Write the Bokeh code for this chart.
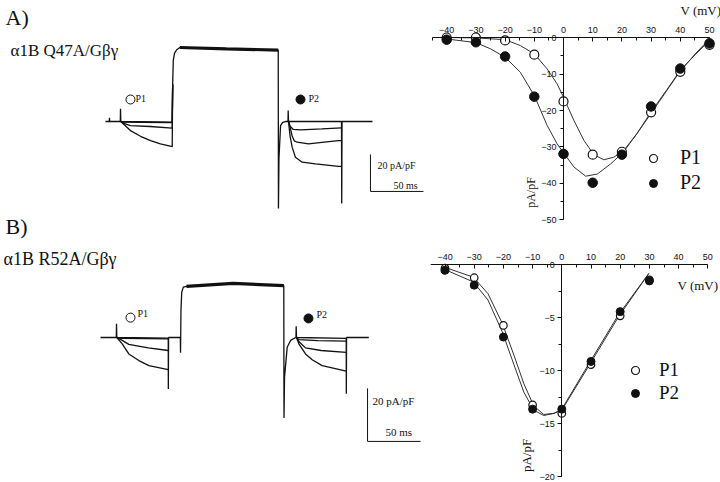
from bokeh.plotting import figure
from bokeh.models import Range1d, LinearAxis, SingleIntervalTicker, Label, Legend, LegendItem
from bokeh.layouts import row, column
from bokeh.embed import file_html
from bokeh.resources import INLINE
from math import pi

# ---------------- data: current traces (time in ms, current in pA/pF) ----------------
# Panel A (alpha1B Q47A / Gbg)
A_common_t = [-14.2, -10.6, -10.4, -10.2, -0.2, 0, 0.3, 48.8, 49.2, 49.8, 51, 53, 56, 100, 148.8,
              149.0, 149.5, 151, 153, 155.7, 158.0, 158.2, 158.5, 208.5, 208.7, 209.0, 237.7]
A_common_I = [0, 0, 2.0, 0, 0, 6.9, 0, -0.3, 20, 33, 37, 38.8, 40.0, 39.3, 38.6,
              -47, -20, -2.2, -0.5, 0, 0, 5.9, 0, 0, -44.3, 0, 0]
A_p1_t = [[0.3, 3, 20, 48.8, 49.2],
          [0.3, 3, 9.4, 28, 48.8, 49.2],
          [0.3, 3, 9.4, 18.9, 28.3, 37.7, 48.8, 49.2]]
A_p1_I = [[0, -0.3, -0.4, -0.6, 20],
          [0, -1.0, -2.2, -2.7, -3.6, 20],
          [0, -1.5, -4.9, -8.0, -10.3, -12.1, -13.6, 20]]
A_p2_t = [[158.5, 160, 163, 170, 190, 208.5],
          [158.5, 160.4, 162, 164, 166.7, 177.4, 190, 205.7, 208.5],
          [158.5, 160, 162, 165, 171.4, 184, 205.7, 208.5]]
A_p2_I = [[0, -2.5, -4.3, -4.5, -4.0, -3.4],
          [0, -4.0, -8.0, -10.5, -11.2, -12.1, -11.3, -10.3, -10.3],
          [0, -8.0, -14.0, -19.3, -22.0, -22.9, -24.3, -24.3]]

# Panel B (alpha1B R52A / Gbg)
B_common_t = [-15.1, -0.2, 0, 0.3, 48.8, 48.9, 49.1, 60.2, 60.4, 60.8, 61.5, 63, 66, 110, 157.8,
              158.0, 158.5, 161, 164.2, 169, 169.3, 169.5, 169.8, 216.7, 216.8, 217.0, 238]
B_common_I = [0, 0, 5.2, 0, -0.2, -19.4, 0, 0, -5.7, 10, 17, 19.0, 19.3, 20.4, 19.6,
              -30.4, -15, -3.7, -1.1, 0, 0, 4.2, 0, -0.3, -21.2, 0, 0]
B_p1_t = [[0.3, 5, 48.8],
          [0.3, 5.4, 11.6, 30, 48.8],
          [0.3, 5.4, 11.6, 21.1, 30.5, 48.8]]
B_p1_I = [[0, -0.3, -0.5],
          [0, -1.1, -2.6, -3.9, -4.9],
          [0, -2.4, -6.2, -8.7, -10.6, -12.1]]
B_p2_t = [[169.8, 172, 190, 216.7],
          [169.8, 172, 178.3, 193, 216.7],
          [169.8, 172, 178.3, 184.6, 194, 216.7]]
B_p2_I = [[0, -0.8, -1.2, -1.4],
          [0, -1.5, -3.9, -4.9, -5.6],
          [0, -2.4, -6.2, -8.4, -10.6, -12.7]]

SCALE_I = 20   # pA/pF
SCALE_T = 50   # ms

# ---------------- data: I-V relations ----------------
V_A = [-40, -30, -20, -10, 0, 10, 20, 30, 40, 50]
P1_A = [0.0, 0.0, -0.8, -4.7, -17.5, -32.1, -31.3, -20.5, -9.4, -2.0]
P2_A = [-0.6, -1.3, -5.2, -16.2, -31.9, -39.8, -32.1, -18.9, -8.5, -1.6]
fit1_V_A = [-40, -30, -20, -14.8, -10, -5.6, -2.2, 0, 3.6, 7.0, 10.4, 13.8, 17.2, 20.5, 25.1, 29.9, 35.4, 40, 45.1, 50]
fit1_I_A = [0, -0.1, -0.6, -2.2, -4.5, -8.6, -12.7, -16.3, -22.8, -28.2, -32.1, -33.5, -32.8, -31.1, -26.4, -20.9, -14.5, -9.2, -4.5, -0.4]
fit2_V_A = [-40, -30, -25, -20, -14.8, -10, -5.6, -2.2, 0, 3.6, 7.6, 11.6, 16.2, 20.5, 25.1, 29.9, 35.4, 40, 45.1, 50]
fit2_I_A = [-0.4, -1.4, -3.1, -5.4, -9.5, -15.9, -24.1, -29.1, -31.6, -35.5, -38.0, -37.4, -34.6, -31.4, -26.4, -20.5, -14.3, -9.0, -4.7, -0.9]

V_B = [-40, -30, -20, -10, 0, 10, 20, 30]
P1_B = [-0.3, -1.2, -5.7, -13.2, -14.0, -9.4, -4.8, -1.4]
P2_B = [-0.5, -1.9, -6.8, -13.6, -13.6, -9.1, -4.4, -1.5]
fit1_V_B = [-40.3, -30.3, -25.3, -20.4, -16.4, -13, -9.6, -6.2, -2.7, 0, 9.3, 19.4, 29.8]
fit1_I_B = [-0.2, -1.15, -2.7, -5.5, -8.5, -11.2, -13.3, -14.1, -14.0, -13.7, -9.5, -4.9, -0.8]
fit2_V_B = [-40.3, -30.3, -25.3, -20.4, -16.4, -13, -9.6, -6.2, -2.7, 0, 9.3, 19.4, 29.8]
fit2_I_B = [-0.4, -1.6, -3.3, -6.3, -9.4, -12.0, -13.7, -14.2, -14.0, -13.6, -9.3, -4.7, -0.8]

SERIF = "Liberation Serif"
SANS = "Liberation Sans"
INK = "#111111"


def base_fig(w, h, xr, yr):
    p = figure(width=w, height=h, x_range=Range1d(*xr), y_range=Range1d(*yr),
               output_backend="svg", toolbar_location=None, min_border=0,
               x_axis_location=None, y_axis_location=None)
    p.grid.visible = False
    p.outline_line_color = None
    p.background_fill_color = "white"
    p.border_fill_color = "white"
    return p


def lab(p, sx, sy, text, size, font=SERIF, align="left", baseline="middle", angle=0.0):
    p.add_layout(Label(x=sx, y=sy, x_units="screen", y_units="screen", text=text,
                       text_font=font, text_font_size=f"{size}px", text_color=INK,
                       text_align=align, text_baseline=baseline, angle=angle))


def trace_panel(w, h, xr, yr, ct, cI, p1t, p1I, p2t, p2I, plateau, bar_t, bar_I):
    p = base_fig(w, h, xr, yr)
    p.line(ct, cI, line_color=INK, line_width=1.3)
    p.line(plateau[0], plateau[1], line_color=INK, line_width=3.2)
    for tt, ii in zip(p1t + p2t, p1I + p2I):
        p.line(tt, ii, line_color=INK, line_width=1.3)
    # scale bar
    p.line([bar_t, bar_t, bar_t + SCALE_T], [bar_I, bar_I - SCALE_I, bar_I - SCALE_I],
           line_color=INK, line_width=1)
    return p


# ---------------- Panel A traces (page x 0-430, y 0-240) ----------------
# reference pixels: t -> X = 120 + 1.06 t ; I -> Y = 121 - 1.85 I
trA = trace_panel(430, 240, (-113.21, 292.45), (-64.32, 65.41),
                  A_common_t, A_common_I, A_p1_t, A_p1_I, A_p2_t, A_p2_I,
                  ([56, 100, 148.8], [40.0, 39.3, 38.6]), 235.8, -17.8)
trA.scatter([9.4], [11.9], marker="circle", size=9, fill_color="white", line_color=INK, line_width=1)
trA.scatter([169.8], [11.9], marker="circle", size=9, fill_color=INK, line_color=INK)
lab(trA, 135, 240 - 98, "P1", 10)
lab(trA, 308, 240 - 98, "P2", 10)
lab(trA, 377, 240 - 165, "20 pA/pF", 10)
lab(trA, 393, 240 - 185, "50 ms", 10)
lab(trA, 5, 240 - 17, "A)", 22)
lab(trA, 10, 240 - 50, "\u03b11B Q47A/G\u03b2\u03b3", 17)
lab(trA, 5, 240 - 226, "B)", 22)

# ---------------- Panel B traces (page x 0-430, y 240-482) ----------------
# reference pixels: t -> X = 116 + 1.06 t ; I -> Y = 337 - 2.65 I
trB = trace_panel(430, 242, (-109.43, 296.2), (-54.7, 36.6),
                  B_common_t, B_common_I, B_p1_t, B_p1_I, B_p2_t, B_p2_I,
                  ([66, 110, 157.8], [19.3, 20.4, 19.6]), 236.8, -19.2)
trB.scatter([13.2], [7.5], marker="circle", size=9, fill_color="white", line_color=INK, line_width=1)
trB.scatter([181.1], [7.2], marker="circle", size=9, fill_color=INK, line_color=INK)
lab(trB, 137, 482 - 313, "P1", 10)
lab(trB, 316, 482 - 314, "P2", 10)
lab(trB, 372, 482 - 400, "20 pA/pF", 11)
lab(trB, 385, 482 - 431, "50 ms", 11)
lab(trB, 3, 482 - 258, "\u03b11B R52A/G\u03b2\u03b3", 18)


# ---------------- I-V panels ----------------
def iv_panel(w, h, xr, yr, ybounds, yint, V, P1, P2, f1v, f1i, f2v, f2i, msize, legend_loc,
             leg_font, leg_spacing, leg_standoff):
    p = base_fig(w, h, xr, yr)
    xa = LinearAxis(fixed_location=0, bounds=(-45, 50),
                    ticker=SingleIntervalTicker(interval=10, num_minor_ticks=2))
    ya = LinearAxis(fixed_location=0, bounds=ybounds,
                    ticker=SingleIntervalTicker(interval=yint, num_minor_ticks=2))
    for ax in (xa, ya):
        ax.major_label_text_font = SANS
        ax.major_label_text_font_size = "9px"
        ax.major_label_text_color = INK
        ax.axis_line_color = INK
        ax.major_tick_line_color = INK
        ax.minor_tick_line_color = INK
    xa.major_tick_in, xa.major_tick_out = 4, 0
    xa.minor_tick_in, xa.minor_tick_out = 3, 0
    xa.major_label_standoff = 5
    ya.major_tick_in, ya.major_tick_out = 0, 4
    ya.minor_tick_in, ya.minor_tick_out = 0, 3
    ya.major_label_standoff = 3
    p.add_layout(xa, "above")
    p.add_layout(ya, "left")
    p.line(f1v, f1i, line_color="#333333", line_width=1)
    p.line(f2v, f2i, line_color="#333333", line_width=1)
    r1 = p.scatter(V, P1, marker="circle", size=msize, fill_color="white", line_color=INK, line_width=1.2)
    r2 = p.scatter(V, P2, marker="circle", size=msize + 0.5, fill_color=INK, line_color=INK)
    leg = Legend(items=[LegendItem(label="P1", renderers=[r1]), LegendItem(label="P2", renderers=[r2])],
                 location=legend_loc, border_line_color=None, background_fill_alpha=0,
                 label_text_font=SERIF, label_text_font_size=f"{leg_font}px", label_text_color=INK,
                 glyph_width=20, glyph_height=20, label_height=20, label_standoff=leg_standoff,
                 spacing=leg_spacing, padding=0, margin=0)
    p.add_layout(leg)
    return p


# A (page x 430-720, y 0-240): V -> X = 563 + 2.92 V ; I -> Y = 37 - 3.65 I
ivA = iv_panel(290, 240, (-45.55, 53.77), (-55.62, 10.14), (-50, 0), 10,
               V_A, P1_A, P2_A, fit1_V_A, fit1_I_A, fit2_V_A, fit2_I_A, 9,
               (213, 46), 20, 2, 17)
lab(ivA, 680 - 430, 240 - 10, "V (mV)", 13)
lab(ivA, 530 - 430, 240 - 192, "pA/pF", 12, align="center", angle=pi / 2)

# B (page x 430-720, y 240-482): V -> X = 561.3 + 2.92 V ; I -> Y = 264.5 - 10.6 I
ivB = iv_panel(290, 242, (-44.97, 54.35), (-20.52, 2.31), (-20, 0), 5,
               V_B, P1_B, P2_B, fit1_V_B, fit1_I_B, fit2_V_B, fit2_I_B, 7.5,
               (195, 78), 19, 1, 14)
lab(ivB, 677 - 430, 482 - 285, "V (mV)", 13)
lab(ivB, 526 - 430, 482 - 455, "pA/pF", 13, align="center", angle=pi / 2)

layout = column(row(trA, ivA), row(trB, ivB))
open("out.html", "w").write(file_html(layout, INLINE))
